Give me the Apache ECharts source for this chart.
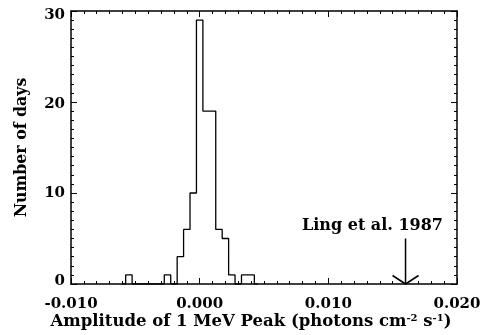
<!DOCTYPE html>
<html>
<head>
<meta charset="utf-8">
<script src="https://cdn.jsdelivr.net/npm/echarts@6/dist/echarts.min.js"></script>
<style>
html,body{margin:0;padding:0;background:#fff;}
#c{width:487px;height:335px;}
</style>
</head>
<body>
<div id="c"></div>
<script>
// Histogram bin centres (photons cm^-2 s^-1) and counts (days)
var binCenters = [-0.006, -0.0055, -0.005, -0.0045, -0.004, -0.0035, -0.003, -0.0025, -0.002, -0.0015, -0.001, -0.0005, 0, 0.0005, 0.001, 0.0015, 0.002, 0.0025, 0.003, 0.0035, 0.004, 0.0045];
var counts     = [0, 1, 0, 0, 0, 0, 0, 1, 0, 3, 6, 10, 29, 19, 19, 6, 5, 1, 0, 1, 1, 0];
var xTickValues = [-0.010, 0.000, 0.010, 0.020];
var xTickLabels = ['-0.010', '0.000', '0.010', '0.020'];
var yTickLabels = ['0', '10', '20', '30'];
// Ling et al. 1987 marker
var arrowX = 0.016;
var arrowTop = 5;
var annotation = 'Ling et al. 1987';

var FONT = 'DejaVu Serif';
var chart = echarts.init(document.getElementById('c'), null, {renderer: 'canvas'});

function xLabel(v) {
  for (var i = 0; i < xTickValues.length; i++) {
    if (Math.abs(v - xTickValues[i]) < 1e-9) return xTickLabels[i];
  }
  return '';
}
function yLabel(v) {
  var i = Math.round(v / 10);
  return yTickLabels[i] !== undefined ? '{y' + i + '|' + yTickLabels[i] + '}' : '';
}
var yRichBase = {fontFamily: FONT, fontWeight: 'bold', fontSize: 15, color: '#000'};
var yRich = {
  y0: Object.assign({}, yRichBase, {padding: [0, 0, 6, 0]}),
  y1: Object.assign({}, yRichBase),
  y2: Object.assign({}, yRichBase, {padding: [5, 0, 0, 0]}),
  y3: Object.assign({}, yRichBase, {padding: [8, 0, 0, 0]})
};

var common = {
  axisLine: {show: true, onZero: false, lineStyle: {color: '#000', width: 1.5}},
  axisTick: {show: true, inside: true, length: 6, lineStyle: {color: '#000', width: 1}},
  minorTick: {show: true, splitNumber: 10, length: 3, lineStyle: {color: '#000', width: 1}},
  splitLine: {show: false},
  minorSplitLine: {show: false}
};

function ax(extra) { return Object.assign({}, JSON.parse(JSON.stringify(common)), extra); }

var histData = binCenters.map(function (x, i) { return [x, counts[i]]; });

chart.setOption({
  animation: false,
  backgroundColor: '#fff',
  grid: {left: 71, top: 11, right: 30, bottom: 51, containLabel: false},
  xAxis: [
    ax({type: 'value', position: 'bottom', min: -0.01, max: 0.02, interval: 0.01,
        axisLabel: {show: true, margin: 13, formatter: xLabel, color: '#000',
                    fontFamily: FONT, fontWeight: 'bold', fontSize: 15}}),
    ax({type: 'value', position: 'top', min: -0.01, max: 0.02, interval: 0.01,
        axisLabel: {show: false}})
  ],
  yAxis: [
    ax({type: 'value', position: 'left', min: 0, max: 30, interval: 10,
        axisLabel: {show: true, margin: 6, formatter: yLabel, rich: yRich, color: '#000',
                    fontFamily: FONT, fontWeight: 'bold', fontSize: 15}}),
    ax({type: 'value', position: 'right', min: 0, max: 30, interval: 10,
        axisLabel: {show: false}})
  ],
  series: [
    {
      type: 'line', step: 'middle', data: histData, showSymbol: false, symbol: 'none',
      xAxisIndex: 0, yAxisIndex: 0, clip: true,
      lineStyle: {color: '#000', width: 1.3}, z: 3
    },
    {
      type: 'custom', xAxisIndex: 0, yAxisIndex: 0, data: [[arrowX, arrowTop]],
      renderItem: function (params, api) {
        var top = api.coord([api.value(0), api.value(1)]);
        var bot = api.coord([api.value(0), 0]);
        var st = {stroke: '#000', lineWidth: 1.5};
        return {
          type: 'group',
          children: [
            {type: 'line', shape: {x1: top[0], y1: top[1], x2: bot[0], y2: bot[1]}, style: st},
            {type: 'line', shape: {x1: bot[0] - 13, y1: bot[1] - 8.5, x2: bot[0], y2: bot[1]}, style: st},
            {type: 'line', shape: {x1: bot[0] + 13, y1: bot[1] - 8.5, x2: bot[0], y2: bot[1]}, style: st}
          ]
        };
      },
      z: 4
    }
  ],
  graphic: [
    {
      type: 'text', left: 302, top: 218,
      style: {text: annotation, fill: '#000', font: 'bold 16px "DejaVu Serif"'}
    },
    {
      type: 'text', x: 22, y: 147.5, rotation: Math.PI / 2,
      style: {text: 'Number of days', fill: '#000', font: 'bold 15.8px "DejaVu Serif"',
              align: 'center', verticalAlign: 'middle'}
    },
    {
      type: 'text', x: 251, y: 322,
      style: {
        text: '{m|Amplitude of 1 MeV Peak (photons cm}{s|-2}{m| s}{s|-1}{m|)}',
        align: 'center', verticalAlign: 'middle',
        rich: {
          m: {fontFamily: FONT, fontWeight: 'bold', fontSize: 16.5, color: '#000'},
          s: {fontFamily: FONT, fontWeight: 'bold', fontSize: 10, color: '#000', verticalAlign: 'top', padding: [0, 0, 7, 0]}
        }
      }
    }
  ]
});
</script>
</body>
</html>
